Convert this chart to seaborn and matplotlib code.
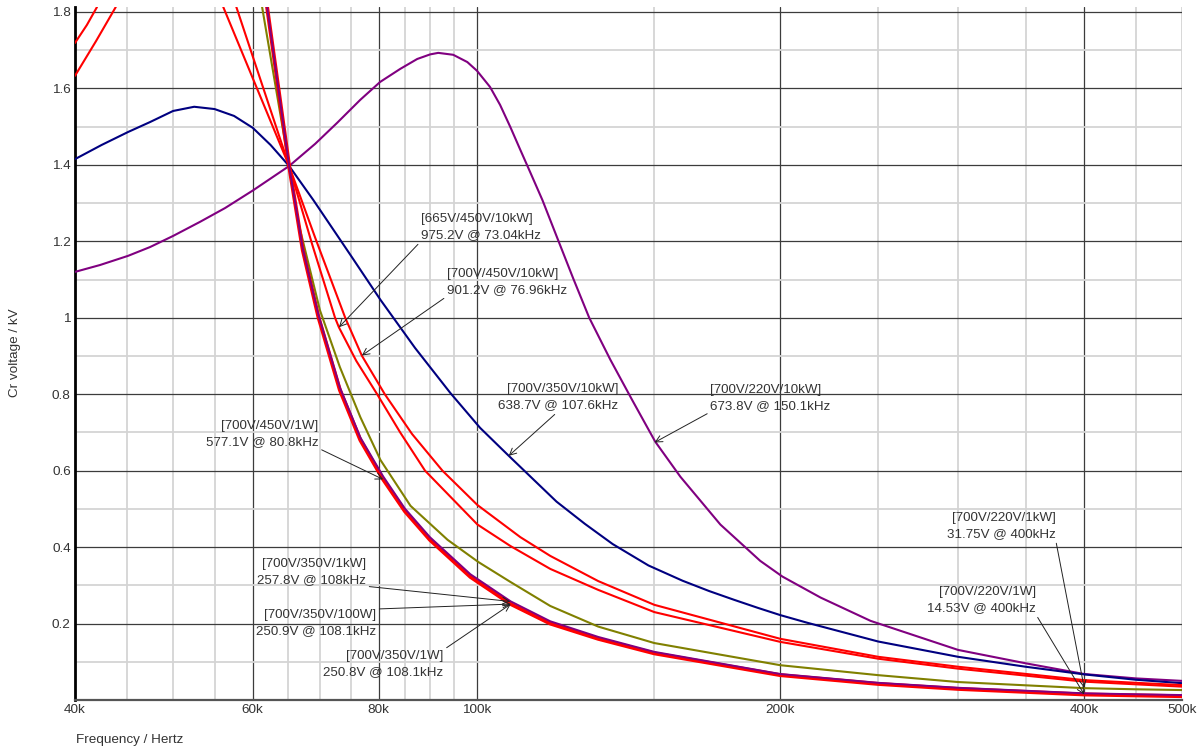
import numpy as np
import seaborn as sns
import matplotlib
matplotlib.use("Agg")
from matplotlib import pyplot as plt
from matplotlib.ticker import FixedLocator, FixedFormatter, NullFormatter

# Curves: frequency in kHz, Cr voltage in kV
# 700V/220V/10kW
purple_f = [40, 42.35, 45.15, 47.47, 50.03, 53.21, 56.33, 60.1, 65.2, 69.19, 72.75, 76.68, 80.25, 84.0, 87.33, 89.94,
            91.62, 94.8, 97.9, 100.1, 103.1, 105.5, 108.0, 110.5, 113.0, 116.2, 120.2, 124.7, 129.3, 135.7, 142.6,
            150.3, 159.2, 174.4, 191.0, 200.9, 219.2, 245.7, 300, 350, 400, 450, 500]
purple_v = [1.120, 1.138, 1.162, 1.185, 1.214, 1.251, 1.287, 1.334, 1.397, 1.455, 1.510, 1.570, 1.617, 1.651, 1.677,
            1.689, 1.693, 1.688, 1.669, 1.646, 1.604, 1.557, 1.499, 1.439, 1.381, 1.308, 1.209, 1.102, 1.0, 0.890,
            0.785, 0.676, 0.584, 0.459, 0.364, 0.323, 0.268, 0.207, 0.131, 0.096, 0.068, 0.0565, 0.050]

# 700V/350V/10kW
navy_f = [40, 42.5, 45.15, 47.47, 50.03, 52.5, 55.0, 57.5, 60.0, 62.5, 65.2, 68.9, 75.0, 80.3, 86.9, 94.2, 100.8, 107.6,
          120, 128, 136.4, 148, 160, 170, 180, 190, 200, 212.7, 250, 300, 350, 400, 450, 500]
navy_v = [1.415, 1.452, 1.486, 1.512, 1.541, 1.552, 1.546, 1.528, 1.497, 1.452, 1.397, 1.308, 1.164, 1.047, 0.921,
          0.803, 0.712, 0.639, 0.519, 0.461, 0.408, 0.352, 0.312, 0.285, 0.262, 0.241, 0.222, 0.202, 0.153, 0.113,
          0.087, 0.067, 0.053, 0.044]

# 700V/220V/1kW
olive_f = [61.3, 65.2, 66.56, 69.94, 73.2, 76.7, 80.3, 86.0, 93.6, 100.4, 108.0, 118.3, 132, 150, 200, 250, 300, 400,
           450, 500]
olive_v = [1.813, 1.397, 1.251, 1.020, 0.871, 0.740, 0.628, 0.508, 0.419, 0.361, 0.309, 0.246, 0.192, 0.149, 0.091,
           0.065, 0.047, 0.031, 0.028, 0.026]

# 665V/450V/10kW
red_c_rise_f = [40, 41.97, 43.9]
red_c_rise_v = [1.633, 1.724, 1.813]
red_c_f = [57.8, 65.2, 68.7, 72.4, 73.04, 76.0, 79.7, 84.0, 88.9, 100.2, 108.0, 118.3, 132, 150, 200, 250, 300, 400,
           450, 500]
red_c_v = [1.813, 1.397, 1.193, 1.0, 0.975, 0.887, 0.8, 0.700, 0.6, 0.459, 0.403, 0.343, 0.288, 0.230, 0.152, 0.108,
           0.082, 0.048, 0.041, 0.035]

# 700V/450V/10kW
red_d_rise_f = [40, 41.1, 42.06]
red_d_rise_v = [1.719, 1.766, 1.813]
red_d_f = [56.1, 65.2, 69.2, 74.1, 76.96, 81.1, 86.3, 92.5, 100.2, 110.5, 118.3, 132, 150, 200, 250, 300, 400, 450,
           500]
red_d_v = [1.813, 1.397, 1.209, 1.0, 0.901, 0.8, 0.696, 0.6, 0.510, 0.426, 0.377, 0.311, 0.249, 0.160, 0.113, 0.087,
           0.052, 0.045, 0.039]

# low-power bundle (red 1W / 100W, purple 1kW)
low_f = [62.0, 65.2, 67.26, 69.7, 73.2, 76.7, 80.8, 84.9, 89.9, 98.6, 108.1, 118.3, 132, 150, 200, 250, 300, 400, 450,
         500]
low_red_v = [1.813, 1.397, 1.177, 1.002, 0.811, 0.680, 0.577, 0.494, 0.419, 0.322, 0.251, 0.200, 0.160, 0.122, 0.065,
             0.042, 0.029, 0.0145, 0.012, 0.010]
low_purple_v = [1.813, 1.397, 1.181, 1.008, 0.818, 0.687, 0.585, 0.501, 0.426, 0.329, 0.258, 0.206, 0.165, 0.126,
                0.068, 0.045, 0.032, 0.0175, 0.015, 0.013]

# Markers
ann_text = ["[665V/450V/10kW]\n975.2V @ 73.04kHz", "[700V/450V/10kW]\n901.2V @ 76.96kHz",
            "[700V/350V/10kW]\n638.7V @ 107.6kHz", "[700V/220V/10kW]\n673.8V @ 150.1kHz",
            "[700V/450V/1W]\n577.1V @ 80.8kHz", "[700V/350V/1kW]\n257.8V @ 108kHz",
            "[700V/350V/100W]\n250.9V @ 108.1kHz", "[700V/350V/1W]\n250.8V @ 108.1kHz",
            "[700V/220V/1kW]\n31.75V @ 400kHz", "[700V/220V/1W]\n14.53V @ 400kHz"]
ann_f = [73.04, 76.96, 107.6, 150.1, 80.8, 108, 108.1, 108.1, 400, 400]
ann_v = [0.9752, 0.9012, 0.6387, 0.6738, 0.5771, 0.2578, 0.2509, 0.2508, 0.03175, 0.01453]

x_major = [60, 80, 100, 200, 400]
x_minor = [40, 45, 50, 55, 65, 70, 75, 85, 90, 95, 150, 250, 300, 350, 450, 500]
x_labels = {40: "40k", 60: "60k", 80: "80k", 100: "100k", 200: "200k", 400: "400k", 500: "500k"}
y_major = [0.2, 0.4, 0.6, 0.8, 1.0, 1.2, 1.4, 1.6, 1.8]
y_labels = ["0.2", "0.4", "0.6", "0.8", "1", "1.2", "1.4", "1.6", "1.8"]
y_minor = [0.1, 0.3, 0.5, 0.7, 0.9, 1.1, 1.3, 1.5, 1.7]

sns.set_theme(style="white")
plt.rcParams['font.family'] = ['Liberation Sans', 'DejaVu Sans']
txt_col = '#333333'

fig = plt.figure(figsize=(12.04, 7.51), dpi=100)
ax = fig.add_axes([75 / 1204, 51 / 751, 1107 / 1204, 693 / 751])

def curve(f, v, col, lw=1.5, z=3):
    sns.lineplot(x=f, y=v, color=col, lw=lw, sort=False, estimator=None, ax=ax, zorder=z)

curve(purple_f, purple_v, '#800080')
curve(navy_f, navy_v, '#000080')
curve(olive_f, olive_v, '#808000')
curve(red_c_rise_f, red_c_rise_v, '#ff0000')
curve(red_c_f, red_c_v, '#ff0000')
curve(red_d_rise_f, red_d_rise_v, '#ff0000')
curve(red_d_f, red_d_v, '#ff0000')
curve(low_f, low_red_v, '#ff0000', lw=2.8)
curve(low_f, low_purple_v, '#800080', lw=1.4, z=4)

ax.set_xscale('log')
ax.set_xlim(40, 500)
ax.set_ylim(0, 1.813)

ax.xaxis.set_major_locator(FixedLocator(x_major))
ax.xaxis.set_minor_locator(FixedLocator(x_minor))
ax.xaxis.set_major_formatter(FixedFormatter([x_labels[v] for v in x_major]))
ax.xaxis.set_minor_formatter(FixedFormatter([x_labels.get(v, "") for v in x_minor]))
ax.yaxis.set_major_locator(FixedLocator(y_major))
ax.yaxis.set_major_formatter(FixedFormatter(y_labels))
ax.yaxis.set_minor_locator(FixedLocator(y_minor))
ax.yaxis.set_minor_formatter(NullFormatter())

ax.grid(which='minor', color='#d4d4d4', lw=1.3, zorder=0)
ax.grid(which='major', color='#3c3c3c', lw=0.9, zorder=1)
ax.set_axisbelow(True)
ax.tick_params(which='both', length=0, labelsize=9.7, labelcolor=txt_col, pad=3)
ax.set_xlabel("")
ax.set_ylabel("")

for s in ['top', 'right']:
    ax.spines[s].set_visible(False)
ax.spines['left'].set_color('black')
ax.spines['left'].set_linewidth(2)
ax.spines['bottom'].set_color('#555555')
ax.spines['bottom'].set_linewidth(1.6)

# text anchors (frequency kHz, kV), alignment and arrow start on the text box
ann_pos = [(88.1, 1.274), (93.5, 1.130), (138.2, 0.829), (170.5, 0.827), (69.7, 0.732),
           (77.7, 0.371), (79.5, 0.238), (92.7, 0.131), (374.8, 0.492), (358.1, 0.298)]
ann_ha = ['left', 'left', 'right', 'left', 'right', 'right', 'right', 'right', 'right', 'right']
ann_rel = [(0, 0), (0, 0), (0.5, 0), (0, 0), (1, 0), (1, 0), (1, 1), (1, 1), (1, 0), (1, 0)]

for t, f, v, p, ha, rel in zip(ann_text, ann_f, ann_v, ann_pos, ann_ha, ann_rel):
    ax.annotate(t, xy=(f, v), xytext=p, textcoords='data', ha=ha, va='top', multialignment=ha,
                fontsize=9.6, color=txt_col, linespacing=1.45, zorder=6,
                arrowprops=dict(arrowstyle='->,head_length=0.5,head_width=0.25', color='#222222', lw=0.7,
                                shrinkA=0, shrinkB=0, relpos=rel))

fig.text(15 / 1204, 1 - 353 / 751, "Cr voltage / kV", rotation=90, ha='center', va='center',
         fontsize=9.7, color=txt_col)
fig.text(76 / 1204, 1 - 740 / 751, "Frequency / Hertz", ha='left', va='center', fontsize=9.7, color=txt_col)

fig.savefig("out.png", dpi=100)
